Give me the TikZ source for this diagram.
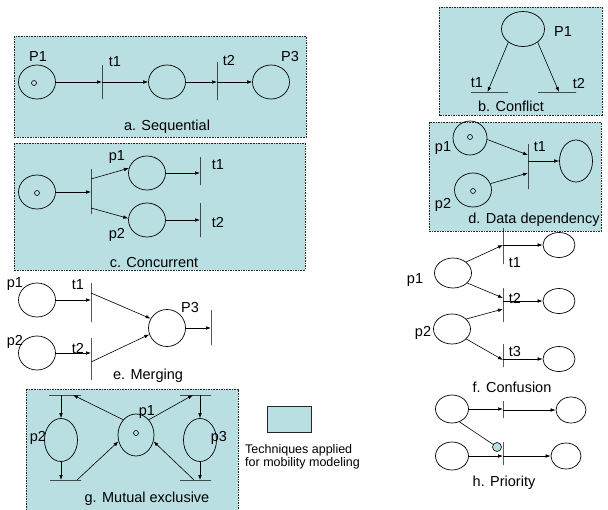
\documentclass[tikz,border=0pt]{standalone}
\usepackage{fontspec}
\setmainfont{Liberation Sans}
\usetikzlibrary{shapes.geometric,arrows.meta,calc}
\definecolor{panelfill}{RGB}{185,223,227}
\begin{document}
\begin{tikzpicture}[x=1pt,y=-1pt,
  panel/.style={draw=black!85, fill=panelfill, line width=0.6pt, dash pattern=on 1.6pt off 1pt},
  place/.style 2 args={draw, ellipse, line width=0.7pt, inner sep=0pt, minimum width=#1, minimum height=#2},
  token/.style={draw, circle, line width=0.6pt, inner sep=0pt, minimum size=5pt},
  tv/.style={draw, line width=0.9pt, inner sep=0pt, minimum width=0pt, minimum height=#1},
  th/.style={draw, line width=0.9pt, inner sep=0pt, minimum height=0pt, minimum width=#1},
  arc/.style={-{Latex[length=5pt,width=3.6pt]}, line width=0.6pt},
  lbl/.style={inner sep=0pt, font=\fontsize{14.5}{16}\selectfont},
  keytext/.style={inner sep=0pt, anchor=west, font=\fontsize{12.5}{15}\selectfont},
  inhib/.style={draw, circle, fill=panelfill, line width=0.6pt, inner sep=0pt, minimum size=9pt}
]
\useasboundingbox (0,0) rectangle (608,509);

% ---------- panels ----------
\path[panel] (14,36) rectangle (306,137);
\path[panel] (439,7) rectangle (602,115);
\path[panel] (14,143) rectangle (305,270);
\path[panel] (429,122) rectangle (601,231);
\path[panel] (26,389) rectangle (238,512);

% ---------- a. Sequential ----------
\node[place={37pt}{34pt}] (a1) at (37,82) {};
\node[token] (a1k) at (34,83) {};
\node[tv=34pt] (ta1) at (102,82) {};
\node[place={37pt}{34pt}] (a2) at (167,82) {};
\node[tv=38pt] (ta2) at (217,81) {};
\node[place={37pt}{34pt}] (a3) at (271,82) {};
\draw[arc] (a1) -- (ta1.center |- a1);
\draw[arc] (ta1.center |- a2) -- (a2);
\draw[arc] (a2) -- (ta2.center |- a2);
\draw[arc] (ta2.center |- a3) -- (a3);
\node[lbl] (aP1) at (38,57) {P1};
\node[lbl] (at1) at (115,62) {t1};
\node[lbl] (at2) at (229,60) {t2};
\node[lbl] (aP3) at (290,57) {P3};
\node[lbl] (acap) at (167,127) {a. Sequential};

% ---------- b. Conflict ----------
\node[place={43pt}{35pt}] (b1) at (523,29) {};
\node[th=37pt] (tb1) at (489.5,92) {};
\node[th=38pt] (tb2) at (557,92) {};
\draw[arc] (b1.222) -- ([xshift=-2pt]tb1.center);
\draw[arc] (b1.318) -- ([xshift=2pt]tb2.center);
\node[lbl] (bP1) at (563,32) {P1};
\node[lbl] (bt1) at (477,83) {t1};
\node[lbl] (bt2) at (579,83) {t2};
\node[lbl] (bcap) at (511,106) {b. Conflict};

% ---------- c. Concurrent ----------
\node[place={37pt}{34pt}] (c0) at (37,192) {};
\node[token] (c0k) at (37,193) {};
\node[tv=45pt] (tc0) at (91,191.5) {};
\node[place={37pt}{34pt}] (c1) at (147,173) {};
\node[place={37pt}{34pt}] (c2) at (147,220) {};
\node[tv=28pt] (tc1) at (200,171) {};
\node[tv=34pt] (tc2) at (200,220) {};
\draw[arc] (c0) -- (tc0.center |- c0);
\draw[arc] ([yshift=12.5pt]tc0.center) -- (c1.165);
\draw[arc] ([yshift=-16.5pt]tc0.center) -- (c2.175);
\draw[arc] (c1) -- (tc1.center |- c1);
\draw[arc] (c2) -- (tc2.center |- c2);
\node[lbl] (cp1) at (117,157) {p1};
\node[lbl] (cp2) at (117,235) {p2};
\node[lbl] (ct1) at (218,165) {t1};
\node[lbl] (ct2) at (218,222) {t2};
\node[lbl] (ccap) at (154,263) {c. Concurrent};

% ---------- d. Data dependency ----------
\node[place={34pt}{34pt}] (d1) at (470,138) {};
\node[token] (d1k) at (470,137) {};
\node[place={37pt}{34pt}] (d2) at (473,190) {};
\node[token] (d2k) at (473,191) {};
\node[tv=45pt] (td) at (528,166.5) {};
\node[place={33pt}{42pt}] (d3) at (576,161) {};
\draw[arc] (d1.-5) -- ([yshift=11.5pt]td.center);
\draw[arc] (d2.20) -- ([yshift=-6.5pt]td.center);
\draw[arc] (td.center |- d3) -- (d3);
\node[lbl] (dp1) at (443,148) {p1};
\node[lbl] (dp2) at (443,205) {p2};
\node[lbl] (dt1) at (540,147) {t1};
\node[lbl] (dcap) at (534,220) {d. Data dependency};

% ---------- e. Merging ----------
\node[place={37pt}{34pt}] (e1) at (37,300) {};
\node[place={37pt}{34pt}] (e2) at (37,353) {};
\node[tv=39pt] (te1) at (91,302.5) {};
\node[tv=42pt] (te2) at (91,359) {};
\node[place={37pt}{37pt}] (e3) at (167,328) {};
\node[tv=35pt] (te3) at (211,327.5) {};
\draw[arc] (e1) -- (te1.center |- e1);
\draw[arc] (e2) -- (te2.center |- e2);
\draw[arc] ([yshift=9.5pt]te1.center) -- (e3.150);
\draw[arc] ([yshift=-3pt]te2.center) -- (e3.200);
\draw[arc] (e3) -- (te3.center |- e3);
\node[lbl] (ep1) at (15,284) {p1};
\node[lbl] (et1) at (78,285) {t1};
\node[lbl] (ep2) at (15,342) {p2};
\node[lbl] (et2) at (78,348) {t2};
\node[lbl] (eP3) at (190,308) {P3};
\node[lbl] (ecap) at (148,376) {e. Merging};

% ---------- f. Confusion ----------
\node[place={37pt}{30pt}] (f1) at (453,273) {};
\node[place={37pt}{30pt}] (f2) at (452,329) {};
\node[tv=36pt] (tf1) at (503,246) {};
\node[tv=34pt] (tf2) at (503,305) {};
\node[tv=23pt] (tf3) at (503,355.5) {};
\node[place={32pt}{25pt}] (o1) at (559,245) {};
\node[place={32pt}{25pt}] (o2) at (559,301) {};
\node[place={32pt}{25pt}] (o3) at (559,359) {};
\draw[arc] (f1.40) -- ([yshift=1pt]tf1.center);
\draw[arc] (f1.-35) -- ([yshift=7pt]tf2.center);
\draw[arc] (f2.35) -- ([yshift=-4pt]tf2.center);
\draw[arc] (f2.-35) -- ([yshift=-4.5pt]tf3.center);
\draw[arc] (tf1.center |- o1) -- (o1);
\draw[arc] (tf2.center |- o2) -- (o2);
\draw[arc] (tf3.center |- o3) -- (o3);
\node[lbl] (fp1) at (415,280) {p1};
\node[lbl] (fp2) at (423,333) {p2};
\node[lbl] (ft1) at (515,263) {t1};
\node[lbl] (ft2) at (515,298) {t2};
\node[lbl] (ft3) at (515,352) {t3};
\node[lbl] (fcap) at (512,387) {f. Confusion};

% ---------- g. Mutual exclusive ----------
\node[th=32pt] (gtl) at (65,395) {};
\node[th=31pt] (gtr) at (195.5,395) {};
\node[th=31pt] (gbl) at (65.5,480) {};
\node[th=31pt] (gbr) at (195.5,480) {};
\node[place={33pt}{43pt}] (g2) at (61,440) {};
\node[place={36pt}{42pt}] (g1) at (136,435) {};
\node[token] (g1k) at (136,433) {};
\node[place={33pt}{43pt}] (g3) at (200,440) {};
\draw[arc] (g2 |- gtl) -- (g2);
\draw[arc] (g2) -- (g2 |- gbl);
\draw[arc] (g3 |- gtr) -- (g3);
\draw[arc] (g3) -- (g3 |- gbr);
\draw[arc] (g1.130) -- ([xshift=8pt]gtl.center);
\draw[arc] (g1.50) -- ([xshift=-2.5pt]gtr.center);
\draw[arc] ([xshift=11.5pt]gbl.center) -- (g1.200);
\draw[arc] ([xshift=-1.5pt]gbr.center) -- (g1.-20);
\node[lbl] (gp2) at (38,438) {p2};
\node[lbl] (gp1) at (147,412) {p1};
\node[lbl] (gp3) at (219,438) {p3};
\node[lbl] (gcap) at (147,499) {g. Mutual exclusive};

% ---------- legend ----------
\node[draw=black!85, fill=panelfill, line width=0.6pt, inner sep=0pt,
      minimum width=44pt, minimum height=26pt] (key) at (289,419) {};
\node[keytext] (keyl1) at (245,450) {Techniques applied};
\node[keytext] (keyl2) at (245,463) {for mobility modeling};

% ---------- h. Priority ----------
\node[place={33pt}{28pt}] (h1) at (452,409) {};
\node[place={33pt}{28pt}] (h2) at (452,456) {};
\node[tv=17pt] (th1) at (503,409.5) {};
\node[tv=23pt] (th2) at (503,453.5) {};
\node[place={30pt}{26pt}] (ho1) at (571,410) {};
\node[place={30pt}{26pt}] (ho2) at (566,456) {};
\draw[arc] (h1) -- (th1.center |- h1);
\draw[arc] (th1.center |- ho1) -- (ho1);
\draw[arc] (h2) -- (th2.center |- h2);
\draw[arc] (th2.center |- ho2) -- (ho2);
\node[inhib] (inh) at (497,447) {};
\draw[line width=0.6pt] (h1.-60) -- (inh);
\node[lbl] (hcap) at (504,483) {h. Priority};

\end{tikzpicture}
\end{document}
